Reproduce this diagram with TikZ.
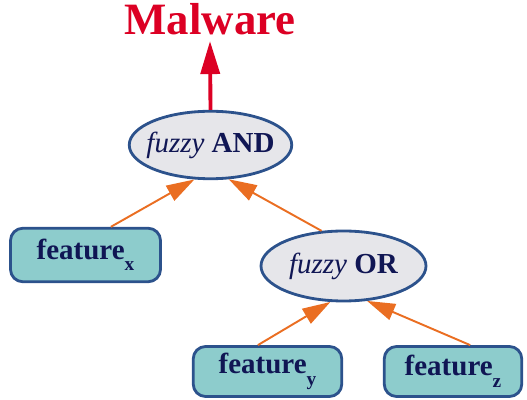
\documentclass[tikz,border=0pt]{standalone}
\usepackage{fontspec}
\setmainfont{Liberation Serif}
\usepackage{tikz}
\usetikzlibrary{arrows.meta, shapes.geometric, positioning}
\usepackage{xcolor}
\definecolor{navytext}{RGB}{16, 22, 84}
\definecolor{edgeblue}{RGB}{44, 82, 140}
\definecolor{boxteal}{RGB}{141, 204, 204}
\definecolor{ovalgray}{RGB}{230, 230, 234}
\definecolor{arrorange}{RGB}{234, 110, 34}
\definecolor{alertred}{RGB}{220, 0, 36}

\newcommand{\featsub}[1]{\raisebox{-6.5pt}{\fontsize{11}{13}\selectfont #1}}

\begin{document}
\begin{tikzpicture}[
  featbox/.style={draw=edgeblue, fill=boxteal, line width=1.6pt, rounded corners=7pt,
                  minimum height=1.0cm, font=\fontsize{16.5}{19}\selectfont\bfseries,
                  text=navytext, inner sep=0pt},
  gate/.style={ellipse, draw=edgeblue, fill=ovalgray, line width=1.6pt,
               minimum width=3.25cm, minimum height=1.35cm, inner xsep=-4pt, inner ysep=0pt,
               font=\fontsize{16.5}{19}\selectfont, text=navytext},
  arr/.style={-{Triangle[length=0.56cm, width=0.34cm]}, line width=1.1pt, color=arrorange},
  outarr/.style={-{Triangle[length=0.66cm, width=0.38cm]}, line width=2.2pt, color=alertred}
]
  \useasboundingbox (0,0) rectangle (10.54,8);

  \node[anchor=base, text=alertred, font=\fontsize{25.5}{30}\selectfont\bfseries, inner sep=3pt]
    (mal) at (4.2,7.3) {Malware};

  \node[gate] (and) at (4.21,5.1)  {\textit{fuzzy} \textbf{AND}};
  \node[gate, minimum width=3.3cm, minimum height=1.4cm] (or) at (6.87,2.68) {\textit{fuzzy} \textbf{OR}};

  \node[featbox, minimum width=3.0cm, minimum height=1.07cm] (fx) at (1.71,2.9) {feature\featsub{x}};
  \node[featbox, minimum width=2.97cm] (fy) at (5.35,0.57) {feature\featsub{y}};
  \node[featbox, minimum width=2.75cm] (fz) at (9.06,0.57) {feature\featsub{z}};

  \draw[outarr] (and.north) -- (mal.south);
  \draw[arr] (fx.48)  -- (and.245);
  \draw[arr] (or.122) -- (and.298);
  \draw[arr] (fy.110) -- (or.250);
  \draw[arr] (fz.57)  -- (or.304);
\end{tikzpicture}
\end{document}
